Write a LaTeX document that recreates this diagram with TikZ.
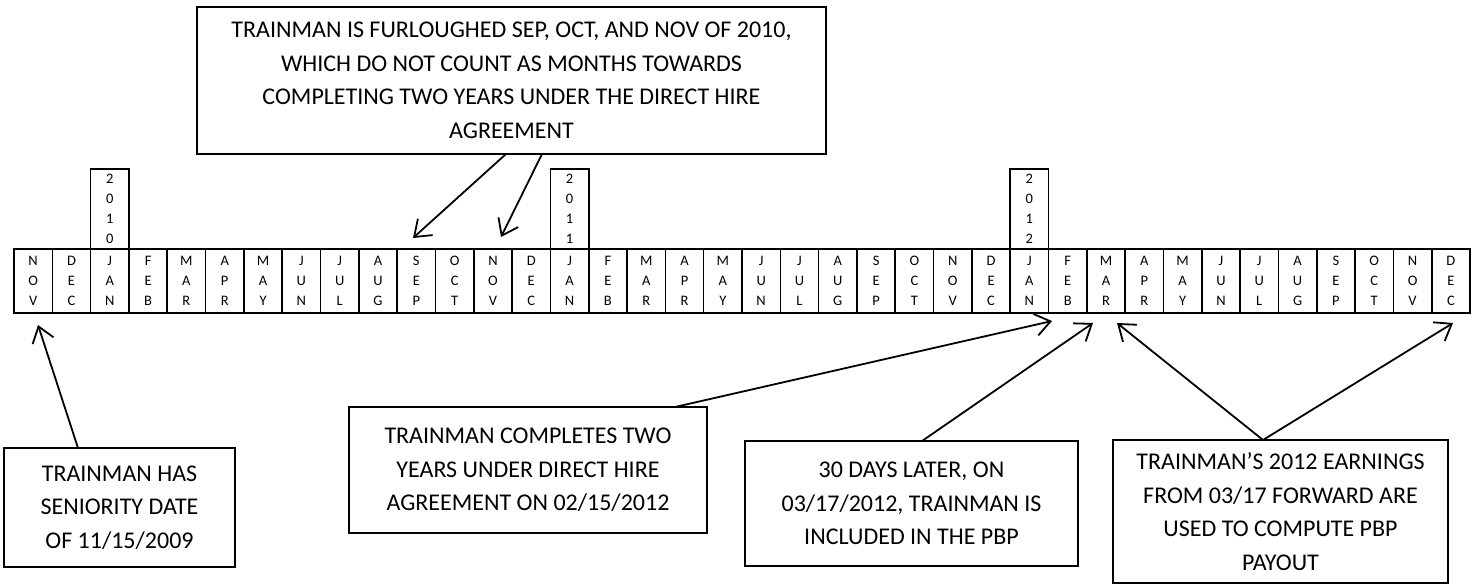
\documentclass[tikz,border=0pt]{standalone}
\usepackage{fontspec}
\setmainfont{Carlito}
\usepackage{tikz}
\usetikzlibrary{arrows.meta, positioning}

\begin{document}
\begin{tikzpicture}[
        x=1pt, y=-1pt,
        month/.style={rectangle, draw, line width=1.6pt, align=center, inner sep=0pt, outer sep=0pt, minimum width=38.32pt, minimum height=64pt, font=\fontsize{14.5}{20}\selectfont},
        yearbox/.style={rectangle, draw, line width=1.6pt, align=center, inner sep=0pt, outer sep=0pt, minimum width=38.32pt, minimum height=80pt, font=\fontsize{14.5}{20}\selectfont},
        note/.style={rectangle, draw, line width=1.2pt, align=center, inner sep=0pt, outer sep=0pt, font=\fontsize{24}{33.5}\selectfont},
        arrow/.style={-{Straight Barb[length=15pt, width=22pt]}, line width=1.8pt}
    ]

    \useasboundingbox (0,0) rectangle (1477,584);

    % Timeline: NOV 2009 to DEC 2012
    \foreach \a/\b/\c [count=\i from 0] in {N/O/V, D/E/C,
        J/A/N, F/E/B, M/A/R, A/P/R, M/A/Y, J/U/N, J/U/L, A/U/G, S/E/P, O/C/T, N/O/V, D/E/C,
        J/A/N, F/E/B, M/A/R, A/P/R, M/A/Y, J/U/N, J/U/L, A/U/G, S/E/P, O/C/T, N/O/V, D/E/C,
        J/A/N, F/E/B, M/A/R, A/P/R, M/A/Y, J/U/N, J/U/L, A/U/G, S/E/P, O/C/T, N/O/V, D/E/C}
        \node[month] (m\i) at ({14+(\i+0.5)*38.316}, 281) {\a\\\b\\\c};

    % Year markers over each January
    \node[yearbox, above=0pt of m2] (y2010) {2\\0\\1\\0};
    \node[yearbox, above=0pt of m14] (y2011) {2\\0\\1\\1};
    \node[yearbox, above=0pt of m26] (y2012) {2\\0\\1\\2};

    % Notes
    \node[note, minimum width=629pt, minimum height=147pt] (furlough) at (511.5, 80.5) {TRAINMAN IS FURLOUGHED SEP, OCT, AND NOV OF 2010,\\WHICH DO NOT COUNT AS MONTHS TOWARDS\\COMPLETING TWO YEARS UNDER THE DIRECT HIRE\\AGREEMENT};
    \node[note, minimum width=231pt, minimum height=119pt] (seniority) at (119.5, 507.5) {TRAINMAN HAS\\SENIORITY DATE\\OF 11/15/2009};
    \node[note, minimum width=358pt, minimum height=126pt] (completes) at (528, 470) {TRAINMAN COMPLETES TWO\\YEARS UNDER DIRECT HIRE\\AGREEMENT ON 02/15/2012};
    \node[note, minimum width=333pt, minimum height=125pt] (included) at (911.5, 503.5) {30 DAYS LATER, ON\\03/17/2012, TRAINMAN IS\\INCLUDED IN THE PBP};
    \node[note, minimum width=335pt, minimum height=143pt] (earnings) at (1280.5, 511.5) {TRAINMAN’S 2012 EARNINGS\\FROM 03/17 FORWARD ARE\\USED TO COMPUTE PBP\\PAYOUT};

    % Arrow ends at the timeline
    \coordinate (sepTip) at (413, 238);
    \coordinate (novTip) at (501, 237);
    \coordinate (startTip) at (38, 325);
    \coordinate (janTip) at (1052, 321);
    \coordinate (febTip) at (1093, 323);
    \coordinate (marTip) at (1117, 323);
    \coordinate (decTip) at (1453, 323);

    % Connecting arrows
    \draw[arrow] ([xshift=-5.5pt]furlough.south) -- (sepTip);
    \draw[arrow] ([xshift=30.5pt]furlough.south) -- (novTip);
    \draw[arrow] ([xshift=-41.5pt]seniority.north) -- (startTip);
    \draw[arrow] ([xshift=147pt]completes.north) -- (janTip);
    \draw[arrow] ([xshift=10.5pt]included.north) -- (febTip);
    \draw[arrow] ([xshift=-17.5pt]earnings.north) -- (marTip);
    \draw[arrow] ([xshift=-17.5pt]earnings.north) -- (decTip);

\end{tikzpicture}
\end{document}
